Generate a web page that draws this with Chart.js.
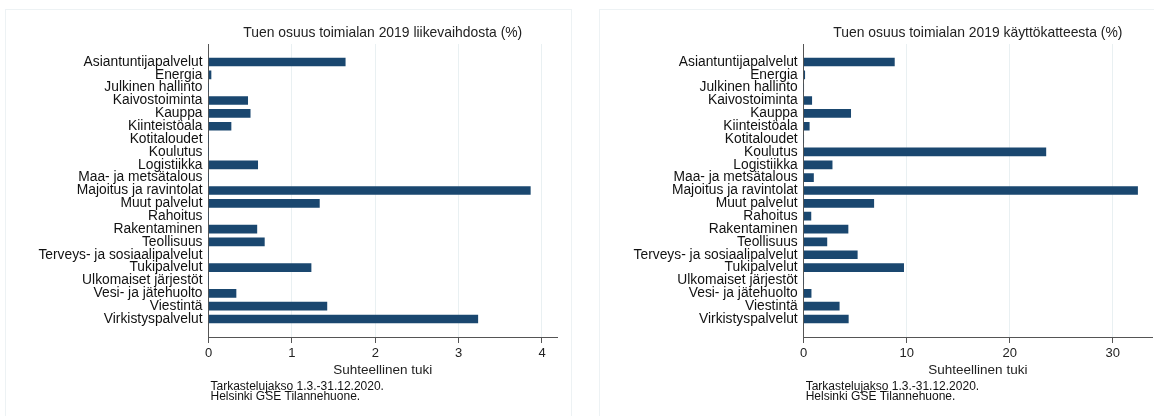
<!DOCTYPE html>
<html>
<head>
<meta charset="utf-8">
<script src="https://cdn.jsdelivr.net/npm/chart.js@4.4.1/dist/chart.umd.min.js"></script>
<style>
  html, body { margin: 0; padding: 0; background: #ffffff; }
  body { width: 1154px; height: 416px; position: relative; overflow: hidden; font-family: "Liberation Sans", Arial, sans-serif; }
  .panel { position: absolute; top: 9px; height: 420px; border: 1px solid #edf2f4; box-sizing: border-box; }
  .wrap { position: absolute; top: 0; height: 416px; }
  canvas { display: block; }
</style>
</head>
<body>
<div class="panel" style="left:5px; width:567px;"></div>
<div class="panel" style="left:599px; width:570px;"></div>
<div class="wrap" style="left:0px; width:572px;"><canvas id="c1" width="572" height="416"></canvas></div>
<div class="wrap" style="left:580px; width:574px;"><canvas id="c2" width="574" height="416"></canvas></div>
<script>
// ---- Data ----
const categories = [
  "Asiantuntijapalvelut", "Energia", "Julkinen hallinto", "Kaivostoiminta", "Kauppa",
  "Kiinteistöala", "Kotitaloudet", "Koulutus", "Logistiikka", "Maa- ja metsätalous",
  "Majoitus ja ravintolat", "Muut palvelut", "Rahoitus", "Rakentaminen", "Teollisuus",
  "Terveys- ja sosiaalipalvelut", "Tukipalvelut", "Ulkomaiset järjestöt", "Vesi- ja jätehuolto",
  "Viestintä", "Virkistyspalvelut"
];
const shareOfTurnover = [
  1.64, 0.03, 0, 0.47, 0.50,
  0.27, 0, 0, 0.59, 0,
  3.86, 1.33, 0, 0.58, 0.67,
  0, 1.23, 0, 0.33,
  1.42, 3.23
];
const shareOfEbitda = [
  8.8, 0.1, 0, 0.78, 4.56,
  0.54, 0, 23.5, 2.76, 0.95,
  32.4, 6.8, 0.7, 4.3, 2.25,
  5.2, 9.7, 0, 0.72,
  3.45, 4.33
];
const ticksTurnover = [0, 1, 2, 3, 4];
const ticksEbitda = [0, 10, 20, 30];
const titleTurnover = "Tuen osuus toimialan 2019 liikevaihdosta (%)";
const titleEbitda = "Tuen osuus toimialan 2019 käyttökatteesta (%)";
const xTitle = "Suhteellinen tuki";
const notes = ["Tarkastelujakso 1.3.-31.12.2020.", "Helsinki GSE Tilannehuone."];

// ---- Chart builder ----
const FONT = "'Liberation Sans', Arial, sans-serif";
const NAVY = "#1a476f";
const Y_PAD = 1.4;

const annotPlugin = {
  id: 'annot',
  afterDraw(chart, args, opts) {
    const { ctx, chartArea } = chart;
    ctx.save();
    ctx.fillStyle = '#222222';
    ctx.font = "13.9px " + FONT;
    ctx.textAlign = 'center';
    ctx.textBaseline = 'middle';
    ctx.fillText(opts.title, (chartArea.left + chartArea.right) / 2, 33);
    ctx.font = "12px " + FONT;
    ctx.textAlign = 'left';
    ctx.fillStyle = '#111111';
    opts.notes.forEach((t, i) => ctx.fillText(t, chartArea.left + 2, 386.5 + i * 10.5));
    ctx.restore();
  }
};

function makeChart(id, values, ticks, xMax, yWidth, padRight, title) {
  const data = values.map((v, i) => ({ x: v, y: i }));
  return new Chart(document.getElementById(id), {
    type: 'bar',
    data: {
      datasets: [{
        data: data,
        backgroundColor: NAVY,
        borderWidth: 0,
        barThickness: 8
      }]
    },
    options: {
      indexAxis: 'y',
      responsive: false,
      animation: false,
      events: [],
      layout: { padding: { top: 44, right: padRight, bottom: 0, left: 0 } },
      plugins: {
        legend: { display: false },
        tooltip: { enabled: false },
        title: { display: false },
        annot: { title: title, notes: notes }
      },
      scales: {
        y: {
          type: 'linear',
          reverse: true,
          offset: false,
          bounds: 'data',
          min: -Y_PAD,
          max: categories.length - 1 + Y_PAD,
          afterBuildTicks: (axis) => {
            axis.ticks = categories.map((c, i) => ({ value: i }));
            axis.min = -Y_PAD;
            axis.max = categories.length - 1 + Y_PAD;
          },
          afterFit: (axis) => { axis.width = yWidth; },
          grid: { display: false, drawTicks: false },
          border: { display: true, color: '#555555', width: 1 },
          ticks: {
            autoSkip: false,
            padding: 6,
            color: '#111111',
            font: { family: FONT, size: 13.8, lineHeight: 1 },
            callback: (v) => categories[v] !== undefined ? categories[v] : ''
          }
        },
        x: {
          type: 'linear',
          bounds: 'data',
          min: 0,
          max: xMax,
          afterBuildTicks: (axis) => {
            axis.ticks = ticks.map(v => ({ value: v }));
            axis.min = 0;
            axis.max = xMax;
          },
          afterFit: (axis) => { axis.height = 416 - 337; },
          grid: { display: true, color: '#e9f0f2', lineWidth: 1, tickColor: '#555555', tickLength: 6, drawTicks: true },
          border: { display: true, color: '#555555', width: 1 },
          ticks: {
            padding: 3,
            color: '#222222',
            font: { family: FONT, size: 13 },
            maxRotation: 0
          },
          title: {
            display: true,
            text: xTitle,
            color: '#222222',
            font: { family: FONT, size: 13.5 },
            padding: { top: 0, bottom: 38 }
          }
        }
      }
    },
    plugins: [annotPlugin]
  });
}

makeChart('c1', shareOfTurnover, ticksTurnover, 4.18, 208.5, 15, titleTurnover);
makeChart('c2', shareOfEbitda, ticksEbitda, 33.8, 223.7, 2, titleEbitda);
</script>
</body>
</html>
